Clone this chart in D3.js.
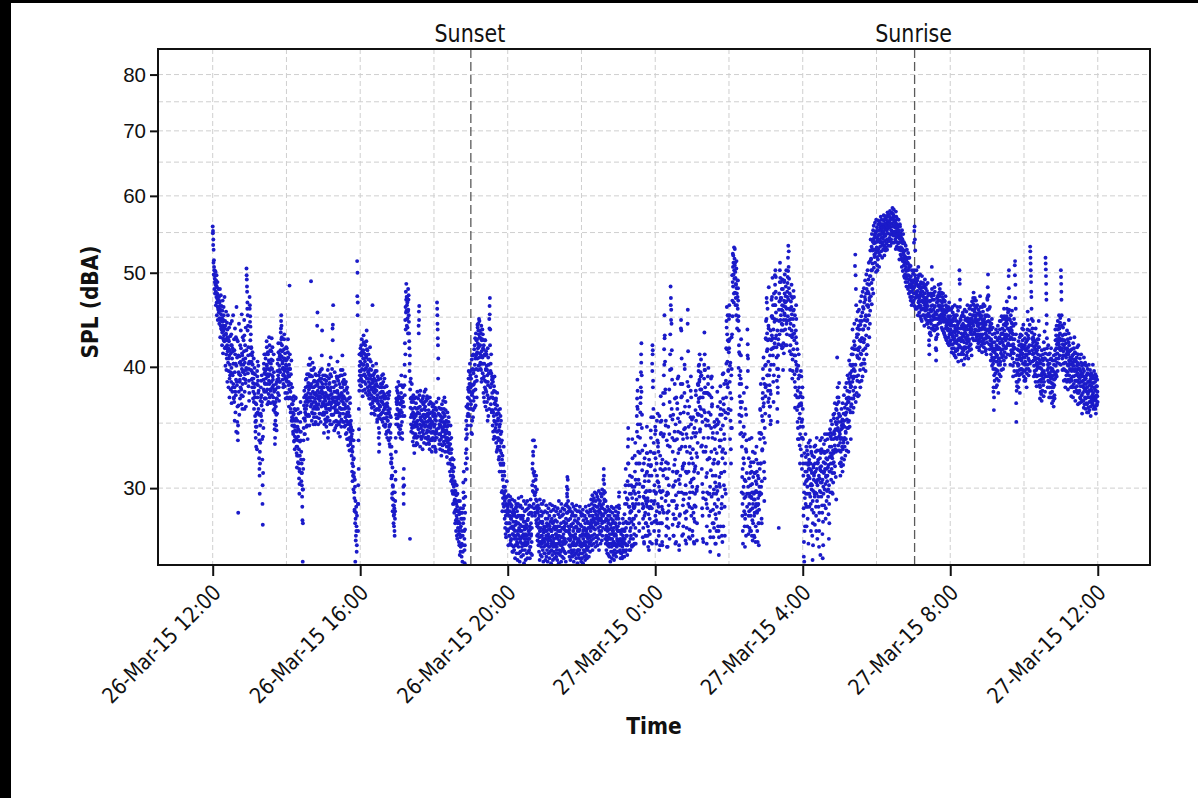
<!DOCTYPE html>
<html>
<head>
<meta charset="utf-8">
<script src="https://cdn.jsdelivr.net/npm/d3@7"></script>
<style>
  body { margin: 0; background: #fff; }
  svg { display: block; }
</style>
</head>
<body>
<svg id="chart" width="1198" height="798"></svg>
<script>
// Sound pressure level, one array pair per clock hour, values in tenths of a dBA.
// aHH: samples at 0 s and 30 s past each minute; bHH: the samples taken 15 s later.
const a12 = [558,552,541,528,515,503,497,489,502,486, 478,491,472,466,483,470,461,474,458,467,
  455,468,449,462,447,458,441,453,446,437, 449,434,445,428,441,436,452,431,425,438,
  427,441,419,433,412,426,408,421,437,415, 404,418,396,425,411,389,402,430,395,413,
  386,399,421,408,377,392,415,384,403,372, 368,381,395,412,359,374,388,401,427,383,
  351,342,336,283,365,377,393,410,386,371, 392,405,418,379,366,398,411,384,373,396,
  402,389,415,431,377,393,408,385,364,399, 505,492,478,466,452,441,419,403,387,376];
const b12 = [549,534,512,498,507,481,493,476,488,501, 463,485,497,452,476,489,447,468,481,459,
  472,443,466,481,429,457,474,438,462,449, 421,457,468,413,447,461,426,439,472,418,
  446,401,432,456,397,418,444,386,429,452, 427,381,408,439,372,416,392,443,379,421,
  432,367,446,394,418,381,452,403,371,427, 416,352,438,377,403,429,343,461,386,409,
  364,425,348,411,395,443,357,404,388,421, 381,436,402,374,453,413,362,429,395,407,
  426,396,447,362,404,421,388,439,397,416, 497,484,459,436,394,411,382,398,369,405];
const a13 = [472,463,451,440,432,418,405,396,411,389, 402,385,377,394,368,381,399,372,356,343,
  338,352,366,347,329,391,405,383,376,362, 341,322,314,296,318,334,358,372,387,365,
  352,337,289,275,311,346,379,398,412,385, 371,396,408,389,377,402,419,384,366,393,
  412,398,375,387,404,421,393,379,367,386, 399,415,428,392,381,406,388,372,361,395,
  377,362,349,338,352,368,384,357,344,371, 388,403,376,392,414,381,369,397,410,386,
  407,423,438,452,441,429,415,398,405,392, 384,399,417,432,408,391,376,389,402,419];
const b13 = [459,445,426,412,397,419,388,403,381,414, 394,371,389,408,362,384,375,393,351,367,
  347,331,358,384,396,372,359,387,401,378, 357,336,309,327,348,369,381,356,374,392,
  368,321,302,339,361,388,403,377,394,371, 384,412,393,371,398,425,401,379,391,414,
  391,368,406,429,384,372,397,416,378,403, 407,386,374,398,419,391,368,383,412,379,
  366,345,333,359,379,364,348,371,386,358, 396,381,407,423,389,374,401,386,412,395,
  416,434,446,427,410,421,403,388,399,381, 393,408,427,396,382,413,398,371,406,387];
const a14 = [401,418,386,372,395,427,409,383,364,391, 485,412,398,377,362,384,406,371,355,348,
  366,352,341,357,373,348,336,329,344,361, 372,354,338,326,315,331,347,362,339,324,
  318,307,296,312,335,351,368,343,327,311, 302,294,278,252,299,321,346,365,378,354,
  341,359,374,388,362,347,371,393,356,337, 368,385,402,379,356,372,391,408,383,364,
  490,397,372,359,381,404,377,362,349,386, 399,375,358,382,368,351,374,392,366,383,
  441,455,378,362,387,371,354,376,395,369, 358,381,397,372,389,411,436,384,367,392];
const b14 = [389,407,376,398,414,392,371,386,402,379, 398,372,384,359,393,371,352,366,381,359,
  354,343,369,358,335,347,362,339,352,371, 361,347,331,343,324,352,336,319,345,358,
  329,314,303,324,343,359,336,321,305,318, 311,287,299,276,314,336,354,372,341,362,
  352,368,381,357,374,389,365,348,382,369, 376,357,393,372,348,381,402,369,392,375,
  384,366,352,391,372,358,397,368,381,355, 387,364,371,349,393,376,362,386,355,374,
  363,384,371,349,366,392,381,358,373,389, 372,351,386,364,378,398,375,357,381,366];
const a15 = [376,359,342,365,388,371,353,369,384,362, 347,366,391,373,355,338,362,379,402,384,
  368,352,374,393,409,381,363,349,371,357, 438,442,463,386,369,351,377,395,364,346,
  361,383,366,348,372,389,405,376,359,342, 367,391,374,356,339,358,381,397,369,353,
  375,392,411,386,368,351,373,388,362,347, 366,384,355,341,363,379,352,337,359,376,
  349,332,356,371,345,328,351,367,343,335, 352,339,324,341,318,305,331,316,299,322,
  308,293,284,301,252,279,268,287,274,262, 514,500,466,271,289,314,345,378,401,392];
const b15 = [368,381,357,349,373,392,364,376,351,387, 359,374,352,381,397,366,343,371,389,362,
  385,361,349,378,366,391,357,375,398,368, 426,372,357,381,363,344,368,386,372,359,
  377,352,369,391,361,378,351,366,387,371, 349,372,384,363,351,373,392,362,347,376,
  362,381,397,371,358,384,366,351,378,393, 371,348,363,386,357,342,369,381,351,364,
  337,359,345,362,338,356,372,349,333,347, 346,329,337,312,327,344,309,321,336,311,
  297,285,306,276,291,265,283,271,258,281, 473,452,289,302,336,362,387,412,396,383];
const a16 = [405,418,396,382,411,427,398,386,373,402, 416,431,422,408,393,379,412,398,384,409,
  425,436,417,401,389,374,395,412,386,371, 392,407,419,384,366,381,397,379,363,388,
  463,401,386,372,358,381,394,376,361,383, 369,387,403,378,362,351,374,391,367,356,
  338,327,342,365,381,372,357,384,369,353, 377,392,368,351,373,386,361,348,375,389,
  362,347,373,358,341,366,382,355,338,364, 352,371,344,336,359,377,348,331,356,342,
  325,318,331,309,296,315,302,288,297,281, 274,286,268,279,291,306,327,349,368,381];
const b16 = [396,413,389,421,403,387,415,392,378,408, 402,424,413,397,386,405,421,391,376,399,
  411,389,402,416,381,396,407,378,393,382, 376,398,371,389,405,374,358,392,381,367,
  385,369,392,377,364,389,371,357,379,396, 378,361,384,396,371,353,382,369,388,362,
  346,361,333,354,376,364,389,372,358,381, 368,384,359,377,393,366,354,371,381,363,
  354,371,349,364,382,358,343,367,352,376, 361,343,358,374,347,333,362,349,338,355,
  319,307,322,293,309,284,301,292,276,288, 282,271,297,284,312,338,357,371,354,366];
const a17 = [378,362,349,371,386,356,342,367,383,359, 345,338,361,376,392,369,351,337,364,381,
  307,296,314,302,356,374,391,412,437,455, 487,472,463,448,439,456,481,469,452,433,
  418,403,266,386,371,355,343,368,384,362, 348,335,359,374,351,338,326,347,363,341,
  332,356,372,349,334,358,377,352,339,363, 441,456,462,374,349,331,355,369,346,337,
  352,368,343,329,351,373,357,341,362,377, 354,338,361,379,348,333,356,371,344,358,
  371,347,334,352,366,343,329,354,368,346, 337,359,342,327,351,364,338,356,343,361];
const b17 = [369,354,376,361,347,373,358,341,372,366, 356,371,348,367,383,359,342,372,356,368,
  301,289,364,383,402,423,447,461,478,469, 457,441,472,466,449,433,458,474,445,425,
  396,411,379,363,389,349,372,357,346,371, 356,342,368,347,332,354,371,339,357,349,
  341,367,351,338,362,347,333,359,371,345, 433,447,358,342,364,378,353,339,361,348,
  361,339,356,371,344,366,349,334,357,368, 347,364,351,338,369,342,357,373,351,337,
  356,339,361,347,333,358,372,349,336,352, 348,367,351,336,359,343,331,357,366,349];
const a18 = [356,342,331,349,363,338,327,352,368,345, 466,452,437,421,408,371,346,333,357,341,
  329,348,362,337,324,351,366,343,332,355, 369,344,335,358,372,349,327,341,361,338,
  352,336,323,347,359,334,318,342,355,329, 341,326,312,333,348,321,305,329,314,298,
  317,303,289,308,321,296,283,305,292,276, 298,285,271,289,302,279,266,284,273,291,
  277,264,282,269,256,273,286,261,279,268, 255,271,283,262,258,276,297,312,288,266,
  251,272,294,318,337,352,329,314,341,356, 372,358,381,396,377,362,389,403,384,369];
const b18 = [347,358,336,353,341,329,356,343,361,338, 459,443,428,389,358,341,363,349,336,352,
  341,356,333,347,362,339,354,328,345,359, 351,339,362,347,333,356,343,368,351,336,
  344,331,351,338,327,348,336,351,331,342, 333,318,337,321,309,326,338,317,306,322,
  309,296,312,289,301,315,291,298,284,303, 291,278,295,281,268,287,296,276,284,269,
  284,271,262,276,291,267,258,274,283,262, 263,279,252,268,286,304,293,279,271,259,
  262,283,306,326,345,364,338,322,348,363, 366,379,389,371,356,384,395,377,392,381];
const a19 = [348,389,362,407,341,376,398,355,412,369, 384,417,363,402,428,379,411,391,426,372,
  427,408,439,418,443,401,432,421,446,413, 436,404,428,397,441,415,389,427,409,432,
  403,376,421,391,368,412,387,426,379,398, 386,412,361,397,374,418,383,356,402,371,
  448,462,471,437,396,366,412,384,359,391, 372,348,386,359,337,378,352,391,344,366,
  362,338,371,349,327,358,376,343,331,354, 336,358,323,347,331,362,318,341,352,326,
  312,336,298,324,306,289,318,331,296,309, 279,301,284,269,293,276,288,305,272,283];
const b19 = [366,342,397,374,352,411,383,361,394,378, 397,372,421,386,408,365,433,398,412,387,
  414,442,423,397,436,419,448,409,429,402, 421,398,433,411,386,426,403,437,394,418,
  389,417,372,403,426,381,411,364,397,415, 377,401,368,392,352,386,409,371,394,362,
  438,453,421,381,403,372,394,361,388,376, 361,389,343,371,356,382,339,367,351,377,
  346,369,334,357,343,365,329,352,338,361, 321,344,337,312,349,328,356,317,334,343,
  297,321,284,309,293,317,301,287,312,294, 291,273,298,281,267,289,276,294,271,285];
const a20 = [283,271,262,289,276,291,268,281,294,273, 265,279,287,262,274,258,283,269,277,261,
  272,259,266,281,254,268,275,262,287,257, 264,276,253,269,281,261,257,273,266,252,
  271,258,264,279,255,267,261,274,259,268, 256,263,277,251,266,272,259,264,253,269,
  262,275,257,268,254,263,279,258,266,271, 259,266,254,272,261,257,268,283,264,256,
  302,318,336,324,311,297,286,309,295,281, 331,306,292,278,287,299,274,265,283,269,
  262,276,258,267,253,271,264,256,273,261, 268,255,263,277,259,266,252,270,261,257];
const b20 = [287,272,295,281,268,291,276,284,263,289, 279,266,288,273,292,269,281,258,285,274,
  268,283,291,271,262,286,277,289,266,280, 284,271,263,289,276,293,268,281,272,287,
  275,288,266,281,294,271,263,286,279,268, 281,269,291,274,262,284,277,268,289,273,
  266,285,273,291,278,264,286,271,282,269, 288,274,261,283,292,276,269,287,273,281,
  314,298,327,305,289,336,312,296,283,301, 297,283,309,276,291,268,285,274,288,279,
  273,286,264,281,292,271,277,263,284,289, 281,268,276,289,265,283,272,291,274,266];
const a21 = [264,257,271,253,262,268,255,274,259,266, 252,263,269,257,275,261,254,267,258,272,
  265,251,259,271,262,256,268,253,264,277, 258,266,254,263,272,257,261,269,255,267,
  261,253,274,266,257,263,251,268,259,271, 256,264,271,258,252,267,262,255,273,260,
  267,259,254,265,272,258,263,276,257,252, 264,271,283,296,308,299,287,274,266,258,
  262,255,269,261,253,266,274,259,257,268, 255,263,258,271,264,252,259,267,256,262,
  269,257,262,254,266,273,258,251,264,259, 256,265,271,259,254,262,268,257,263,252];
const b21 = [273,284,266,279,262,288,271,276,283,268, 279,265,286,272,261,281,274,289,267,277,
  284,271,263,279,288,268,276,261,285,273, 266,281,274,287,262,278,269,284,273,259,
  277,263,286,271,282,268,291,274,265,280, 271,284,262,276,289,267,281,273,286,264,
  282,269,277,263,285,274,266,288,271,279, 276,289,301,294,283,306,291,278,284,270,
  272,286,265,279,268,284,275,262,281,289, 283,268,276,262,287,273,281,266,278,285,
  267,281,274,288,263,277,284,271,259,276, 279,266,284,272,287,264,275,283,268,281];
const a22 = [261,254,268,257,263,251,266,259,272,255, 264,258,253,269,262,256,271,260,254,267,
  259,266,273,261,255,268,263,276,258,264, 271,265,278,262,274,268,259,281,266,273,
  263,277,269,284,272,261,275,267,279,264, 276,268,262,281,273,266,278,259,271,285,
  269,274,263,279,287,271,265,276,268,282, 273,281,296,309,303,291,277,266,272,263,
  268,259,274,265,257,271,262,278,256,267, 261,255,269,263,252,266,258,273,261,254,
  266,258,262,271,256,264,253,268,259,263, 257,269,262,255,274,261,266,258,271,264];
const b22 = [274,263,282,269,285,271,278,262,281,273, 281,268,276,287,264,279,272,284,269,277,
  269,283,276,264,288,273,281,267,285,274, 284,292,276,289,281,295,273,286,291,279,
  293,279,288,297,284,276,291,282,296,287, 281,294,287,276,292,284,298,279,289,283,
  291,283,296,278,288,294,281,299,286,277, 289,306,314,298,292,285,297,283,291,278,
  279,268,284,273,287,266,281,276,263,285, 272,281,266,284,275,263,279,287,269,276,
  283,271,278,264,286,273,269,281,276,262, 276,284,268,279,287,272,265,281,274,283];
const a23 = [263,279,294,286,271,258,266,254,262,269, 257,265,272,261,255,268,276,259,264,271,
  282,266,297,258,314,273,262,289,268,256, 305,331,346,318,287,264,279,296,271,259,
  284,268,302,277,261,293,322,289,266,275, 298,279,263,287,312,334,306,281,268,292,
  356,371,388,362,339,318,297,284,271,303, 326,349,367,381,412,423,392,357,328,301,
  286,273,294,318,263,281,305,332,297,276, 268,289,311,347,326,293,274,261,282,305,
  321,298,279,264,287,316,338,355,309,286, 403,421,416,387,362,334,298,277,291,313];
const b23 = [271,288,297,276,262,259,271,265,257,263, 262,271,254,266,279,263,258,272,266,255,
  271,289,263,302,277,259,268,293,276,262, 292,318,337,302,276,259,287,309,283,266,
  273,296,284,262,308,337,301,279,262,287, 286,269,301,324,296,273,263,289,318,303,
  343,364,378,349,327,306,289,276,294,318, 338,359,372,395,404,377,346,313,289,267,
  279,301,287,264,293,322,309,283,268,291, 276,298,326,312,287,268,291,317,271,259,
  309,286,269,298,327,344,317,291,276,263, 396,412,381,355,326,289,271,302,326,341];
const a00 = [347,322,296,278,265,284,309,336,358,331, 304,287,271,259,276,298,324,351,373,342,
  318,293,276,262,285,313,339,366,392,417, 452,431,405,379,348,319,295,274,261,283,
  307,332,296,273,288,314,341,368,397,432, 484,471,458,443,416,388,353,327,301,282,
  268,291,317,343,371,336,305,279,264,286, 312,337,362,389,354,326,297,276,259,281,
  303,329,358,384,447,436,408,373,341,314, 288,269,292,318,345,376,398,364,331,302,
  279,263,284,311,338,369,458,415,382,347, 318,293,272,297,326,355,391,372,338,306];
const b00 = [281,344,297,263,318,352,276,305,289,334, 327,268,301,356,283,262,314,341,297,276,
  352,287,264,321,298,376,309,283,341,402, 428,376,314,291,352,268,307,336,279,297,
  261,318,347,284,302,379,266,331,412,356, 463,447,398,362,291,338,275,312,357,268,
  302,336,279,384,321,263,349,295,372,311, 288,367,312,274,343,391,306,262,329,351,
  282,309,342,438,372,297,331,268,384,316, 337,274,359,296,318,402,283,346,265,312,
  296,341,273,327,386,443,358,289,312,267, 364,287,331,266,304,378,349,281,322,353];
const a01 = [286,271,297,318,342,307,279,263,288,314, 339,361,378,352,326,298,276,301,334,357,
  383,396,371,402,388,364,345,372,391,407, 379,356,332,303,281,266,293,327,361,389,
  434,412,397,376,353,331,308,289,274,297, 321,352,384,399,375,348,322,296,271,258,
  284,313,346,372,391,366,338,309,285,267, 276,299,321,347,329,304,282,263,279,301,
  326,353,377,349,318,292,271,256,283,308, 331,357,382,362,336,311,289,268,294,322,
  348,371,394,366,341,312,287,299,326,354, 387,418,446,461,432,405,381,358,397,425];
const b01 = [301,268,329,355,283,264,312,346,277,296, 316,287,374,342,299,265,323,358,384,311,
  368,401,357,386,412,343,379,395,362,331, 392,314,286,351,372,297,264,338,376,402,
  397,359,381,327,292,348,376,263,311,286, 376,391,338,296,359,281,322,374,301,267,
  357,389,327,294,364,381,276,342,318,296, 318,273,351,289,337,263,309,348,296,271,
  287,342,298,364,274,319,351,267,303,336, 301,368,274,345,311,286,357,327,264,393,
  329,274,361,302,384,337,268,318,359,296, 372,403,439,417,384,452,426,396,362,414];
const a02 = [448,463,427,401,376,352,329,346,371,398, 432,468,489,507,521,498,476,503,517,529,
  512,494,471,486,505,482,463,447,472,491, 468,451,436,414,392,373,351,368,389,411,
  384,356,331,308,289,271,296,322,347,318, 293,274,261,282,305,329,357,336,311,287,
  437,422,408,296,281,307,289,273,294,316, 302,285,271,293,312,297,278,265,289,308,
  319,296,281,267,292,311,287,274,298,321, 303,284,271,288,309,293,276,262,285,301,
  314,337,361,342,318,296,279,305,328,352, 376,389,364,338,312,291,307,334,358,381];
const b02 = [418,452,386,337,404,361,318,392,429,346, 497,451,523,484,512,466,531,493,509,477,
  501,463,487,452,514,476,438,491,459,482, 446,399,421,357,384,412,341,396,363,427,
  342,297,368,281,314,263,339,301,376,284, 306,341,279,362,294,268,327,381,296,274,
  411,396,301,269,322,284,337,296,271,311, 281,319,294,338,268,303,286,327,276,297,
  292,268,311,283,326,297,264,305,289,331, 312,283,297,264,318,289,307,276,342,295,
  297,362,318,384,301,341,276,356,329,371, 398,352,409,367,319,384,346,401,373,428];
const a03 = [402,427,448,466,433,417,392,378,405,438, 371,356,383,397,364,349,375,402,426,451,
  472,449,428,411,386,368,392,419,445,463, 486,503,478,455,431,409,387,362,351,376,
  398,422,273,446,467,489,512,494,471,452, 436,458,481,463,442,419,397,423,447,468,
  491,476,452,437,461,484,467,443,421,446, 472,495,518,533,507,482,459,438,415,397,
  421,448,473,461,436,412,389,407,432,457, 479,458,433,411,386,363,381,405,429,448,
  423,398,372,351,337,364,389,412,381,354, 332,318,347,373,396,365,338,324,353,381];
const b03 = [446,383,471,415,392,459,426,368,441,483, 392,427,364,411,378,436,352,417,469,431,
  451,494,418,463,437,402,476,448,423,497, 463,428,495,471,419,447,398,436,381,411,
  427,391,458,476,432,503,468,447,489,421, 471,443,418,492,457,481,436,462,413,489,
  454,498,466,421,473,447,503,459,432,478, 488,451,502,469,526,493,447,476,431,458,
  443,467,412,486,453,429,471,396,448,417, 441,472,426,393,452,411,374,436,463,402,
  396,361,417,378,346,401,372,337,392,366, 358,341,376,329,367,391,351,314,338,372];
const a04 = [362,337,309,286,264,252,271,293,318,341, 323,305,287,312,328,301,279,296,317,334,
  308,321,296,314,331,302,289,313,327,299, 285,268,253,276,298,315,306,323,311,294,
  318,332,305,287,271,296,314,328,302,319, 306,294,278,261,283,307,322,336,313,297,
  316,329,304,288,269,254,277,301,319,333, 312,326,341,318,303,286,309,327,314,298,
  321,337,315,299,282,266,289,312,331,345, 326,339,352,331,314,297,322,341,318,304,
  337,319,343,358,332,316,338,351,327,292, 349,366,409,372,344,328,351,368,339,356];
const b04 = [347,318,281,255,297,326,303,274,312,289, 296,331,274,318,306,287,325,309,263,314,
  319,287,307,336,294,318,271,303,326,311, 302,324,291,262,317,283,309,331,296,275,
  297,312,327,281,304,338,291,266,318,306, 321,287,309,271,328,298,315,256,304,326,
  294,312,338,283,306,327,262,296,311,288, 327,299,314,336,279,308,322,291,341,305,
  309,328,294,317,341,302,276,323,312,297, 342,318,306,337,324,349,311,296,328,357,
  326,354,311,341,367,329,345,308,362,338, 361,337,354,381,346,332,372,358,385,343];
const a05 = [328,341,356,337,319,345,362,348,331,353, 367,349,334,358,374,352,338,363,381,357,
  342,366,385,371,353,378,392,368,346,372, 389,406,377,361,384,402,381,364,391,412,
  396,418,437,412,389,371,398,425,443,421, 508,522,497,481,463,447,429,411,438,456,
  432,416,441,458,437,419,446,467,442,425, 451,473,446,428,455,478,461,437,459,482,
  466,447,472,491,469,451,476,498,481,463, 487,503,478,461,492,512,486,471,496,514,
  527,541,516,503,532,548,529,511,538,553, 541,559,536,522,547,563,544,528,551,567];
const b05 = [318,334,309,327,351,316,338,322,346,312, 329,317,352,336,321,347,331,358,324,343,
  337,359,328,371,346,334,362,351,327,368, 352,386,347,371,394,359,337,382,366,401,
  371,386,359,402,378,363,391,417,374,396, 381,402,368,417,391,376,432,387,409,373,
  392,418,374,408,386,426,397,381,413,402, 412,387,428,403,391,437,416,398,424,407,
  427,403,441,418,396,452,431,412,446,421, 447,421,463,438,476,452,429,468,443,457,
  496,473,517,488,464,503,481,527,492,476, 528,506,543,519,537,512,549,524,501,538];
const a06 = [552,538,519,503,527,546,561,539,524,548, 563,547,532,556,571,553,538,561,549,534,
  557,542,528,551,566,548,533,555,569,546, 531,554,572,559,541,563,577,556,539,561,
  574,558,543,566,579,561,547,568,553,537, 562,576,583,569,551,572,581,564,548,571,
  557,541,563,578,559,544,532,556,568,549, 536,552,567,544,528,549,561,538,522,546,
  531,517,538,553,529,514,536,548,524,509, 521,536,512,498,519,533,507,493,516,528,
  503,489,511,524,497,484,506,518,492,478, 495,508,483,472,491,503,479,467,488,499];
const b06 = [531,557,509,542,516,566,529,553,507,538, 541,521,559,537,548,526,567,544,518,556,
  537,561,529,573,545,521,558,539,562,527, 548,567,536,553,528,571,549,564,533,556,
  562,539,571,548,557,533,569,541,576,552, 549,568,537,558,574,546,559,537,566,551,
  566,547,529,552,571,538,561,547,531,558, 548,529,553,537,516,542,558,531,549,527,
  521,543,507,528,541,502,526,517,538,496, 513,494,527,504,489,518,502,484,511,497,
  496,512,481,503,518,476,492,509,486,472, 487,468,496,478,463,485,472,491,466,482];
const a07 = [482,468,537,552,558,541,527,493,476,489, 503,487,472,461,479,494,507,484,468,455,
  471,486,498,477,462,448,467,483,496,474, 459,473,488,466,452,471,485,463,449,468,
  482,461,447,465,479,458,443,462,476,454, 439,426,412,433,451,468,447,431,456,473,
  507,492,469,451,437,458,474,452,436,461, 478,455,441,418,406,429,453,471,448,432,
  457,474,486,463,449,468,481,459,444,462, 476,453,439,457,472,451,436,455,469,447,
  433,452,467,445,429,448,463,441,426,444, 459,438,423,446,461,437,421,443,458,435];
const b07 = [491,476,503,462,484,497,471,459,488,475, 478,459,491,473,452,485,466,497,474,461,
  463,482,451,474,489,458,479,446,468,487, 478,452,467,483,459,441,476,492,457,471,
  463,486,452,471,443,468,488,451,474,446, 452,421,446,467,434,458,476,443,462,438,
  481,447,463,438,476,452,441,469,483,448, 462,437,449,427,416,441,466,438,457,472,
  468,443,462,477,451,473,446,468,487,452, 459,477,448,466,437,462,476,445,458,434,
  449,468,431,457,473,438,455,427,461,445, 442,457,436,451,429,448,466,432,447,425];
const a08 = [451,437,422,444,459,432,418,441,455,429, 413,435,452,428,411,434,449,425,409,431,
  446,423,437,461,442,418,405,427,444,421, 503,487,469,448,426,412,433,451,429,414,
  438,455,431,416,402,424,441,458,436,419, 433,448,427,411,429,446,463,441,425,408,
  425,442,459,437,421,444,462,439,417,432, 449,467,443,428,446,464,477,452,434,456,
  471,448,432,451,468,445,429,447,463,441, 426,443,458,436,419,438,455,473,449,432,
  452,437,421,443,461,439,423,446,464,441, 427,444,462,438,415,433,451,428,412,436];
const b08 = [441,426,458,433,414,447,431,461,422,446, 427,449,418,441,463,424,438,415,452,436,
  431,452,416,439,426,457,434,412,445,428, 492,461,438,419,447,425,406,441,418,452,
  426,443,412,438,451,419,433,408,447,429, 418,439,456,423,437,414,449,431,419,445,
  448,427,441,416,453,434,422,447,436,411, 437,458,432,452,471,441,426,463,445,468,
  459,437,452,426,444,461,436,419,454,432, 441,423,447,431,416,452,428,443,461,425,
  438,451,429,414,447,432,456,426,441,419, 448,423,437,452,428,442,417,445,431,424];
const a09 = [452,469,483,498,474,451,437,422,445,461, 438,421,406,427,443,418,401,424,439,415,
  398,381,361,392,414,433,409,394,418,437, 412,397,383,405,426,441,419,402,387,408,
  429,446,423,405,391,413,432,451,427,411, 433,417,398,421,442,459,436,414,431,448,
  426,409,432,451,467,443,421,438,455,431, 496,503,472,448,427,411,434,452,429,413,
  436,457,433,416,401,422,441,419,404,427, 509,514,486,459,432,351,378,396,417,403,
  386,407,425,402,388,411,429,408,393,414, 431,416,398,419,438,413,397,421,442,418];
const b09 = [471,458,437,473,446,429,459,434,417,441, 426,443,412,437,421,448,409,432,418,403,
  377,406,372,424,387,416,398,429,381,405, 421,389,411,434,396,417,376,408,428,393,
  418,437,402,424,446,416,397,433,409,438, 424,448,411,432,406,451,428,402,443,419,
  441,418,446,428,459,431,412,448,423,457, 482,458,436,421,447,402,428,439,416,444,
  421,443,408,427,391,432,413,448,396,418, 497,471,443,392,367,386,407,382,411,394,
  401,381,416,392,421,397,376,409,432,398, 422,406,431,394,412,426,403,437,409,391];
const a10 = [403,387,409,428,405,389,412,433,411,394, 418,437,456,431,408,392,415,436,413,396,
  532,518,503,489,472,448,421,405,427,446, 424,406,391,413,432,409,393,417,438,414,
  397,382,404,423,401,386,408,427,446,419, 399,383,371,392,411,388,375,398,416,394,
  378,395,412,389,373,396,417,435,408,391, 518,504,487,469,443,418,397,381,402,421,
  403,386,372,394,413,391,376,399,418,396, 381,367,389,406,384,369,392,411,388,374,
  395,416,437,412,393,418,441,422,404,427, 446,424,408,431,452,428,411,433,449,426];
const b10 = [418,396,421,402,387,416,424,398,381,412, 426,402,447,419,398,428,406,421,442,403,
  526,511,496,478,459,434,416,438,412,429, 413,427,401,419,396,425,407,386,421,402,
  408,391,416,399,427,412,392,419,403,431, 387,406,381,399,377,403,386,369,392,408,
  389,406,383,402,424,386,408,393,377,413, 511,496,476,452,428,406,391,412,387,399,
  394,412,381,403,386,407,372,389,408,385, 392,377,398,372,396,381,364,402,383,371,
  406,389,426,401,431,408,391,427,413,396, 437,418,441,422,403,438,419,444,416,402];
const a11 = [503,487,469,441,418,397,422,439,415,398, 421,443,426,404,388,411,432,409,392,417,
  436,414,395,379,401,424,447,421,403,386, 409,428,406,389,373,396,417,398,381,404,
  423,401,384,407,429,405,387,369,392,413, 396,378,401,419,394,376,398,421,402,385,
  367,389,408,386,371,393,412,391,374,358, 382,403,387,369,391,409,384,366,388,404,
  379,362,384,401,377,359,381,398,375,363, 386,402,378,361,383,397,372,356,379,394,
  371,385,367,389,402,376,362,381,396,373, 364,379,393,371,358,382,374,366,388,377];
const b11 = [495,478,452,427,408,431,411,426,403,387, 411,432,397,418,381,404,423,396,412,386,
  418,402,427,388,412,433,406,392,415,398, 397,416,381,402,387,408,382,411,391,372,
  412,391,418,396,377,414,398,381,406,387, 387,409,382,404,387,366,412,391,376,398,
  378,398,372,396,382,404,368,386,401,369, 394,376,398,381,363,396,378,402,372,389,
  371,389,367,392,381,366,394,372,386,359, 377,393,368,386,372,388,364,391,369,382,
  378,392,374,366,391,369,385,372,364,389, 371,386,362,378,369,391,365,382,373,368];

const hoursA = [a12, a13, a14, a15, a16, a17, a18, a19, a20, a21, a22, a23,
                a00, a01, a02, a03, a04, a05, a06, a07, a08, a09, a10, a11];
const hoursB = [b12, b13, b14, b15, b16, b17, b18, b19, b20, b21, b22, b23,
                b00, b01, b02, b03, b04, b05, b06, b07, b08, b09, b10, b11];
const seriesStart = new Date(2015, 2, 26, 12, 0, 0);

// Axis ticks and labels
const yTickValues = [30, 40, 50, 60, 70, 80];
const yGridValues = [30, 35, 40, 45, 50, 55, 60, 65, 70, 75, 80];
const xTickTimes = [
  new Date(2015, 2, 26, 12), new Date(2015, 2, 26, 16), new Date(2015, 2, 26, 20),
  new Date(2015, 2, 27, 0), new Date(2015, 2, 27, 4), new Date(2015, 2, 27, 8),
  new Date(2015, 2, 27, 12)
];
const xTickLabels = ["26-Mar-15 12:00", "26-Mar-15 16:00", "26-Mar-15 20:00",
  "27-Mar-15 0:00", "27-Mar-15 4:00", "27-Mar-15 8:00", "27-Mar-15 12:00"];

// Sunset / sunrise markers
const eventLabels = ["Sunset", "Sunrise"];
const eventTimes = [new Date(2015, 2, 26, 19, 0), new Date(2015, 2, 27, 7, 2)];

// ---------------------------------------------------------------------
const W = 1198, H = 798;
const plot = { left: 158, right: 1150, top: 49, bottom: 565 };
const tahoma = "'DejaVu Sans', Verdana, sans-serif";
const narrow = 0.86;

const points = [];
hoursA.forEach((block, hi) => {
  block.forEach((v, j) => {
    const base = seriesStart.getTime() + (hi * 3600 + j * 30) * 1000;
    points.push({ t: new Date(base), spl: v / 10 });
    points.push({ t: new Date(base + 15000), spl: hoursB[hi][j] / 10 });
  });
});

const svg = d3.select("#chart");

svg.append("rect").attr("width", W).attr("height", H).attr("fill", "#fff");
// dark frame strips along the left and top edges
svg.append("rect").attr("x", 0).attr("y", 0).attr("width", 11).attr("height", H).attr("fill", "#000");
svg.append("rect").attr("x", 0).attr("y", 0).attr("width", W).attr("height", 3).attr("fill", "#000");

const x = d3.scaleTime()
  .domain([new Date(2015, 2, 26, 10, 31), new Date(2015, 2, 27, 13, 25)])
  .range([plot.left, plot.right]);
const y = d3.scaleLog().domain([25, 85]).range([plot.bottom, plot.top]);

// grid
const grid = svg.append("g")
  .attr("stroke", "#cfcfcf").attr("stroke-width", 1).attr("stroke-dasharray", "5,3");
const gridTimes = d3.timeHour.every(2).range(new Date(2015, 2, 26, 12), new Date(2015, 2, 27, 12, 1));
grid.selectAll("line.v").data(gridTimes).join("line")
  .attr("x1", d => x(d)).attr("x2", d => x(d))
  .attr("y1", plot.top).attr("y2", plot.bottom);
grid.selectAll("line.h").data(yGridValues).join("line")
  .attr("x1", plot.left).attr("x2", plot.right)
  .attr("y1", d => y(d)).attr("y2", d => y(d));

// sunset / sunrise lines
const ev = svg.append("g");
ev.selectAll("line").data(eventTimes).join("line")
  .attr("x1", d => x(d)).attr("x2", d => x(d))
  .attr("y1", plot.top).attr("y2", plot.bottom)
  .attr("stroke", "#5a5a5a").attr("stroke-width", 1.3).attr("stroke-dasharray", "9,4");
ev.selectAll("text").data(eventTimes).join("text")
  .attr("transform", d => `translate(${x(d) - 1},42) scale(${narrow},1)`)
  .attr("text-anchor", "middle")
  .attr("font-family", tahoma).attr("font-size", 24).attr("fill", "#111")
  .text((d, i) => eventLabels[i]);

// points
svg.append("clipPath").attr("id", "plot-clip")
  .append("rect").attr("x", plot.left).attr("y", plot.top)
  .attr("width", plot.right - plot.left).attr("height", plot.bottom - plot.top);
svg.append("g").attr("clip-path", "url(#plot-clip)")
  .selectAll("circle").data(points).join("circle")
  .attr("cx", d => x(d.t)).attr("cy", d => y(d.spl))
  .attr("r", 1.95).attr("fill", "#1b1bc9");

// frame
svg.append("rect")
  .attr("x", plot.left).attr("y", plot.top)
  .attr("width", plot.right - plot.left).attr("height", plot.bottom - plot.top)
  .attr("fill", "none").attr("stroke", "#111").attr("stroke-width", 2);

// y axis
const yAxis = svg.append("g").attr("transform", `translate(${plot.left},0)`)
  .call(d3.axisLeft(y).tickValues(yTickValues).tickFormat(d3.format("d")).tickSize(8).tickPadding(4));
yAxis.select(".domain").remove();
yAxis.selectAll(".tick line").attr("stroke", "#111").attr("stroke-width", 2);
yAxis.selectAll(".tick text")
  .attr("font-family", "'Liberation Sans', Arial, sans-serif").attr("font-size", 20.5).attr("fill", "#111");

// x axis
const xAxis = svg.append("g").attr("transform", `translate(0,${plot.bottom})`)
  .call(d3.axisBottom(x).tickValues(xTickTimes).tickFormat((d, i) => xTickLabels[i]).tickSize(11));
xAxis.select(".domain").remove();
xAxis.selectAll(".tick line").attr("stroke", "#111").attr("stroke-width", 2);
xAxis.selectAll(".tick text")
  .attr("x", null).attr("y", null).attr("dy", null)
  .attr("text-anchor", "end")
  .attr("transform", `translate(9,29) rotate(-45) scale(${narrow},1)`)
  .attr("font-family", tahoma).attr("font-size", 22).attr("fill", "#111");

// axis titles
svg.append("text")
  .attr("transform", `translate(${(plot.left + plot.right) / 2},734) scale(${narrow},1)`)
  .attr("text-anchor", "middle")
  .attr("font-family", tahoma).attr("font-weight", "bold").attr("font-size", 23.5).attr("fill", "#111")
  .text("Time");
svg.append("text")
  .attr("transform", `translate(98,302) rotate(-90) scale(${narrow},1)`)
  .attr("text-anchor", "middle")
  .attr("font-family", tahoma).attr("font-weight", "bold").attr("font-size", 23.5).attr("fill", "#111")
  .text("SPL (dBA)");
</script>
</body>
</html>
